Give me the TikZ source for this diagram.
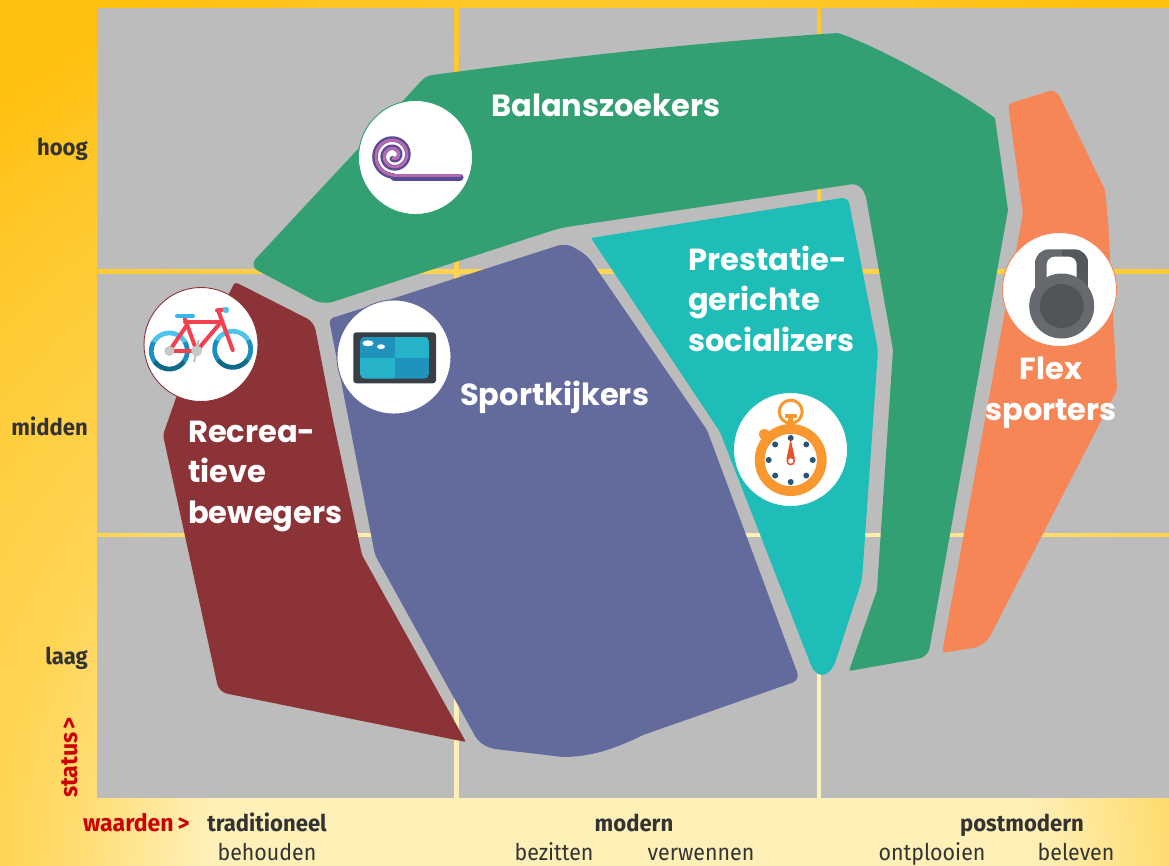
\documentclass[tikz,border=0pt]{standalone}
\usepackage{fontspec}
\newfontfamily\lab{Poppins}
\newfontfamily\axf{Fira Sans}[FakeStretch=0.93,BoldFeatures={FakeStretch=0.96}]
\definecolor{bgp}{HTML}{FFF0B8}
\definecolor{bga}{HTML}{FFDC70}
\definecolor{bgb}{HTML}{FFD555}
\definecolor{bgc}{HTML}{FFCE40}
\definecolor{bgd}{HTML}{FFC728}
\definecolor{bge}{HTML}{FFC010}
\definecolor{tilegrey}{HTML}{BCBCBC}
\definecolor{cgreen}{HTML}{32A072}
\definecolor{corange}{HTML}{F78656}
\definecolor{cteal}{HTML}{1FBDB8}
\definecolor{cpurple}{HTML}{636A9C}
\definecolor{cred}{HTML}{8C3338}
\definecolor{axtext}{HTML}{333333}
\definecolor{axred}{HTML}{CC0000}
\pgfdeclareradialshading{bgglow}{\pgfpointorigin}{color(0bp)=(bgp);color(9.5bp)=(bgp);color(12.5bp)=(bga);color(14.1bp)=(bgb);color(17.25bp)=(bgc);color(20.5bp)=(bgd);color(23bp)=(bge);color(50bp)=(bge)}
\tikzset{
  tile/.style={fill=tilegrey,draw=none},
  region/.style={draw=none},
  iconcircle/.style={circle,fill=white,inner sep=0pt,minimum size=114pt,line width=0.9pt},
  regionlabel/.style={text=white,anchor=west,align=left,inner sep=0pt,font=\lab\bfseries\fontsize{30.5}{40.5}\selectfont},
  axisb/.style={text=axtext,inner sep=0pt,anchor=base,font=\axf\bfseries\fontsize{23}{26}\selectfont},
  axisr/.style={text=axtext,inner sep=0pt,anchor=base,font=\axf\fontsize{23}{26}\selectfont},
  axisred/.style={text=axred,inner sep=0pt,font=\axf\bfseries\fontsize{24}{26}\selectfont},
}
\newcommand{\wheelicon}[2]{%
  \draw[line width=4.8pt,color={rgb,255:red,79;green,195;blue,234}] plot[domain=-150:-30,samples=30] ({#1+18*cos(\x)},{#2+18*sin(\x)});
  \draw[line width=4.8pt,color={rgb,255:red,27;green,143;blue,192}] plot[domain=-30:35,samples=20] ({#1+18*cos(\x)},{#2+18*sin(\x)});
  \draw[line width=4.8pt,color={rgb,255:red,27;green,143;blue,192}] plot[domain=145:210,samples=20] ({#1+18*cos(\x)},{#2+18*sin(\x)});
  \draw[line width=4.8pt,color={rgb,255:red,13;green,107;blue,133}] plot[domain=35:145,samples=30] ({#1+18*cos(\x)},{#2+18*sin(\x)});
}
\begin{document}
\begin{tikzpicture}[x=1pt,y=-1pt]
\useasboundingbox (0,0) rectangle (1169,865);
\begin{scope}
  \clip (0,0) rectangle (1169,865);
  \shade[shading=bgglow] (620,900) circle (1100pt);
\end{scope}
% tiles
\foreach \xa/\xb in {97/454,458.5/817,821/1169}{
  \foreach \ya/\yb in {8/269.3,273.7/533,537.3/798}{
    \fill[tile] (\xa,\ya) rectangle (\xb,\yb);
  }
}
% green
\fill[region,cgreen,rounded corners=5pt] (249,266) -- (426,76) -- (440,74)
  [sharp corners] .. controls (560,58) and (700,42) .. (838,33)
  .. controls (880,47) and (960,92) .. (995,118) -- (1008,210)
  [rounded corners=9pt] -- (928,657)
  [rounded corners=2pt] -- (849,671)
  [sharp corners] -- (877,590) -- (893,350) -- (866,197)
  [rounded corners=9pt] -- (860,183) -- (560,228)
  [rounded corners=10pt] -- (323,305) -- cycle;
% orange
\fill[region,corange,rounded corners=8pt] (1008,104) -- (1056,89) [rounded corners=3pt] -- (1105,190) -- (1108,220) -- (1117,390)
  [rounded corners=12pt] -- (985,646) [rounded corners=4pt] -- (942,653)
  -- (1023,213) -- cycle;
% purple
\fill[region,cpurple,rounded corners=8pt] (329,319) -- (566,243) -- (587,255) [rounded corners=2pt] -- (707,430)
  [rounded corners=8pt] -- (800,680)
  [sharp corners] -- (643,735) .. controls (615,749) and (590,757) .. (563,757) -- (495,749)
  [rounded corners=10pt] -- (480,745) [rounded corners=4pt] -- (375,555) -- cycle;
% teal
\fill[region,cteal,rounded corners=7pt] (591,238) -- (848,197) -- (878,350) -- (862,580)
  [sharp corners] -- (836,660) .. controls (829,680) and (815,680) .. (809,660)
  [rounded corners=2pt] -- (720,432) -- cycle;
% red
\fill[region,cred,rounded corners=8pt] (235,282) -- (314,322) [rounded corners=2pt] -- (333,420) -- (362,555)
  [rounded corners=2pt] -- (466,742)
  [rounded corners=8pt] -- (219,692)
  [rounded corners=3pt] -- (163,435) -- (177,395) -- cycle;
% circles
\node[iconcircle,draw=cgreen] (rollc) at (415.5,157.5) {};
\node[iconcircle,draw=cred] (bikec) at (201,344.5) {};
\node[iconcircle,draw=cpurple] (tabc) at (394,357) {};
\node[iconcircle,draw=cteal] (watchc) at (790.5,449.5) {};
\node[iconcircle,draw=corange] (bellc) at (1059.5,289.5) {};
% roll icon
\draw[line width=7pt,color={rgb,255:red,91;green,74;blue,148},line cap=round] (460,177) -- (394,177);
\draw[line width=5.6pt,color={rgb,255:red,91;green,74;blue,148},line cap=round]
  plot[domain=0:740,samples=120] ({393.5-(20.5-17*\x/740)*sin(\x)},{155.5+(20.5-17*\x/740)*cos(\x)});
\draw[line width=3.4pt,color={rgb,255:red,181;green,107;blue,176},line cap=round] (460,175.6) -- (394,175.6);
\draw[line width=3pt,color={rgb,255:red,181;green,107;blue,176},line cap=round]
  plot[domain=0:740,samples=120] ({393.5-(19.5-17*\x/740)*sin(\x)},{155.5+(19.5-17*\x/740)*cos(\x)});
% bike icon
\wheelicon{169.3}{351}
\wheelicon{232.7}{349.3}
\begin{scope}[line cap=round,line width=4pt,color={rgb,255:red,242;green,64;blue,79}]
  \draw (185,319) -- (196.7,351);
  \draw (185,322) -- (221,322);
  \draw (221,322) -- (196.7,351);
  \draw (169.3,351) -- (196.7,351);
  \draw (169.3,351) -- (187,325);
  \draw (218,310) -- (232.7,350);
  \draw (217,310.5) -- (224,309.5);
\end{scope}
\fill[color={rgb,255:red,79;green,195;blue,234}] (226,310) circle (3.2pt);
\draw[line width=4pt,line cap=round,color={rgb,255:red,58;green,181;blue,230}] (177,316) -- (193,316);
\draw[line width=2pt,color={rgb,255:red,190;green,190;blue,190}] (198.5,340) -- (194,362);
\fill[color={rgb,255:red,200;green,200;blue,200}] (169.3,351) circle (5pt);
\fill[color={rgb,255:red,200;green,200;blue,200}] (196.7,351) circle (5.5pt);
% tablet icon
\fill[color={rgb,255:red,58;green,63;blue,69},rounded corners=3pt] (353.3,332.3) rectangle (436,383.3);
\begin{scope}
  \clip[rounded corners=5pt] (360,336.7) rectangle (429.3,378.7);
  \fill[color={rgb,255:red,31;green,147;blue,187}] (360,336.7) rectangle (395,357.7);
  \fill[color={rgb,255:red,37;green,179;blue,201}] (395,336.7) rectangle (429.3,357.7);
  \fill[color={rgb,255:red,37;green,179;blue,201}] (360,357.7) rectangle (395,378.7);
  \fill[color={rgb,255:red,31;green,147;blue,187}] (395,357.7) rectangle (429.3,378.7);
\end{scope}
\fill[white] (368,343.3) ellipse [x radius=5.5pt,y radius=3pt];
\fill[white] (381,346.7) ellipse [x radius=4pt,y radius=2.4pt];
% stopwatch icon
\begin{scope}[color={rgb,255:red,249;green,152;blue,47}]
  \draw[line width=3pt] (790.7,411.7) circle (11.5pt);
  \fill (785,414) rectangle (796.5,417.5);
  \fill (788,417) rectangle (793.4,426);
  \fill (764.3,434.3) circle (5.5pt);
  \draw[line width=10pt] (790.7,460) circle (31pt);
\end{scope}
\fill[white] (790.7,460) circle (26pt);
\foreach \a in {0,45,...,315}{
  \fill[color={rgb,255:red,42;green,85;blue,120}] ({790.7+22*cos(\a)},{460+22*sin(\a)}) circle (3pt);
}
\fill[color={rgb,255:red,229;green,83;blue,45}] (790.7,439) -- (795,459) -- (786.4,459) -- cycle;
\fill[color={rgb,255:red,229;green,83;blue,45}] (790.7,461) circle (4.4pt);
\fill[white] (790.7,461) circle (2.6pt);
% kettlebell icon
\begin{scope}
  \clip[rounded corners=14pt] (1035,249.3) rectangle (1088.3,310);
  \fill[color={rgb,255:red,102;green,106;blue,110}] (1035,249.3) rectangle (1061.7,310);
  \fill[color={rgb,255:red,85;green,88;blue,91}] (1061.7,249.3) rectangle (1088.3,310);
\end{scope}
\fill[white,rounded corners=8pt] (1046.7,256.7) rectangle (1076.7,290);
\fill[color={rgb,255:red,102;green,106;blue,110}] (1061.7,306) circle (32.5pt);
\fill[color={rgb,255:red,82;green,85;blue,88}] (1061.7,306) circle (22pt);
% region labels
\node[regionlabel] (lbal) at (491,105) {Balanszoekers};
\node[regionlabel] (lpre) at (688,298.5) {Prestatie-\\gerichte\\socializers};
\node[regionlabel] (lspo) at (460,397) {Sportkijkers};
\node[regionlabel] (lrec) at (188,476) {Recrea-\\tieve\\bewegers};
\node[regionlabel,anchor=center,align=center] (lfle) at (1051,393) {Flex\\sporters};
% axis labels
\node[axisb,anchor=base east] (ahoog) at (88,155.5) {hoog};
\node[axisb,anchor=base east] (amid) at (88,435) {midden};
\node[axisb,anchor=base east] (alaag) at (88,664) {laag};
\node[axisred,anchor=base west,rotate=90] (astat) at (77,798) {status\hspace{3pt}>};
\node[axisred,anchor=base west] (awaar) at (83,831.5) {waarden\hspace{4pt}>};
\node[axisb] (atrad) at (267,831) {traditioneel};
\node[axisb] (amod) at (634,831) {modern};
\node[axisb] (apost) at (1022,831) {postmodern};
\node[axisr] (abeh) at (267,860) {behouden};
\node[axisr] (abez) at (554,860) {bezitten};
\node[axisr] (aver) at (701,860) {verwennen};
\node[axisr] (aont) at (932,860) {ontplooien};
\node[axisr] (abel) at (1076,860) {beleven};
\end{tikzpicture}
\end{document}
